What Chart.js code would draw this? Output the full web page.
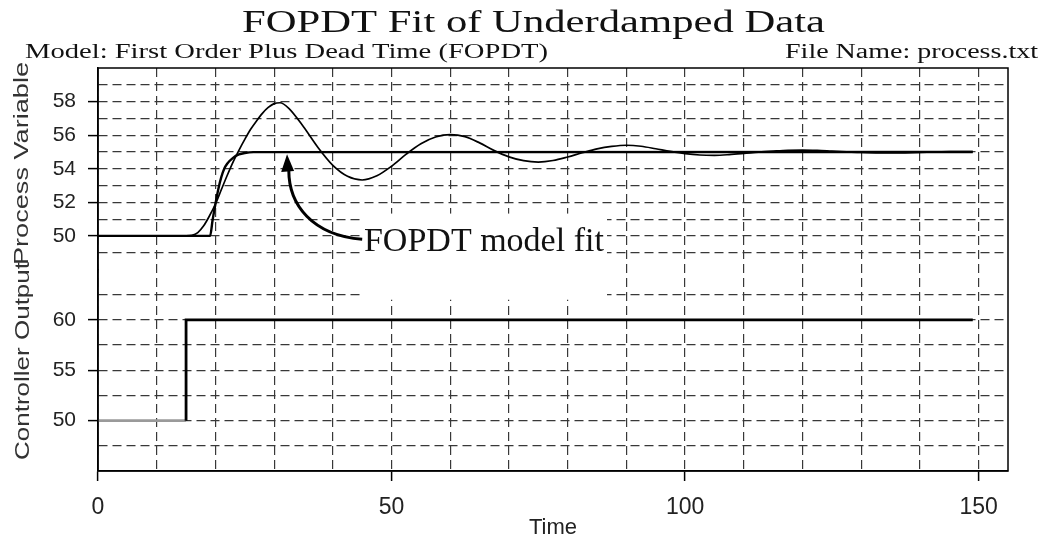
<!DOCTYPE html>
<html>
<head>
<meta charset="utf-8">
<script src="https://cdn.jsdelivr.net/npm/chart.js@4.4.1/dist/chart.umd.min.js"></script>
<style>
  html, body { margin: 0; padding: 0; background: #fff; }
  #wrap { width: 1055px; height: 541px; }
</style>
</head>
<body>
<div id="wrap"><canvas id="chart" width="1055" height="541"></canvas></div>
<script>
// measured process variable (underdamped response)
const pvTime = [0, 15, 16, 17, 18, 19, 20, 21, 22, 23, 24, 25, 26, 27, 28, 29, 30, 31,
    32.5, 35, 37.5, 40, 42.5, 45, 47.5, 50, 52.5, 55, 57.5, 60, 62.5, 65, 67.5, 70,
    72.5, 75, 77.5, 80, 82.5, 85, 87.5, 90, 92.5, 95, 97.5, 100, 102.5, 105, 107.5, 110,
    112.5, 115, 117.5, 120, 122.5, 125, 127.5, 130, 132.5, 135, 137.5, 140, 142.5, 145, 149];
const pvValues = [50, 50, 50.03, 50.2, 50.6, 51.2, 51.9, 52.75, 53.6, 54.4, 55.1, 55.75, 56.35, 56.85, 57.3, 57.65, 57.88, 57.93,
    57.6, 56.5, 55.25, 54.2, 53.55, 53.33, 53.58, 54.15, 54.87, 55.49, 55.89, 56.03, 55.91, 55.54, 55.08, 54.71,
    54.48, 54.4, 54.49, 54.7, 54.95, 55.18, 55.33, 55.4, 55.34, 55.19, 55.03, 54.9, 54.82, 54.8, 54.84, 54.91,
    54.99, 55.05, 55.1, 55.11, 55.09, 55.05, 55.01, 54.97, 54.95, 54.94, 54.95, 54.97, 55.0, 55.02, 55.02];

// FOPDT model fit
const fitTime = [0, 19.1, 19.5, 20, 20.5, 21, 21.5, 22, 23, 24, 25, 26.5, 149];
const fitValues = [50, 50, 50.9, 51.9, 52.8, 53.5, 54.0, 54.3, 54.65, 54.85, 54.94, 54.99, 55];

// controller output step
const coTime = [0, 15, 15, 149];
const coValues = [50, 50, 60, 60];

// labelled ticks
const timeTickLabels = [0, 50, 100, 150];
const pvTickLabels = [50, 52, 54, 56, 58];
const coTickLabels = [50, 55, 60];

const toPoints = (xs, ys) => xs.map((x, i) => ({ x: x, y: ys[i] }));

const GRID = '#383838';
const DASH = [9, 5];

// draws text squeezed/stretched to a given width (the source image is stretched)
const drawFitted = (ctx, text, font, x, y, width, rotate) => {
    ctx.save();
    ctx.font = font;
    const w = ctx.measureText(text).width;
    ctx.translate(x, y);
    if (rotate) ctx.rotate(-Math.PI / 2);
    ctx.scale(width / w, 1);
    ctx.textAlign = 'left';
    ctx.textBaseline = 'alphabetic';
    ctx.fillText(text, 0, 0);
    ctx.restore();
};

const framePlugin = {
    id: 'frame',
    afterDraw(chart) {
        const { ctx, chartArea: a } = chart;
        ctx.save();
        ctx.strokeStyle = '#000';
        ctx.lineWidth = 1.5;
        ctx.strokeRect(a.left, a.top, a.right - a.left, a.bottom - a.top);
        ctx.restore();
    }
};

const textPlugin = {
    id: 'texts',
    afterDraw(chart) {
        const ctx = chart.ctx;
        ctx.fillStyle = '#111';
        drawFitted(ctx, 'FOPDT Fit of Underdamped Data', '31px "Liberation Serif"', 242, 32, 583);
        drawFitted(ctx, 'Model: First Order Plus Dead Time (FOPDT)', '20px "Liberation Serif"', 25, 58, 523);
        drawFitted(ctx, 'File Name: process.txt', '20px "Liberation Serif"', 785, 58, 253);
        ctx.fillStyle = '#333';
        drawFitted(ctx, 'Process Variable', '21px "Liberation Sans"', 28, 265, 203, true);
        drawFitted(ctx, 'Controller Output', '21px "Liberation Sans"', 29, 460, 198, true);
    }
};

const notePlugin = {
    id: 'note',
    beforeDatasetsDraw(chart) {
        const { ctx, scales } = chart;
        const X = v => scales.x.getPixelForValue(v);
        const P = v => scales.yPV.getPixelForValue(v);
        const C = v => scales.yCO.getPixelForValue(v);
        // label box hides the grid behind the text
        ctx.save();
        ctx.fillStyle = '#fff';
        ctx.fillRect(X(45), P(51.33), X(86.7) - X(45), C(62) - P(51.33));
        ctx.restore();
    },
    afterDatasetsDraw(chart) {
        const { ctx, scales } = chart;
        const X = v => scales.x.getPixelForValue(v);
        const P = v => scales.yPV.getPixelForValue(v);
        ctx.save();
        ctx.fillStyle = '#111';
        ctx.font = '34px "Liberation Serif"';
        ctx.textBaseline = 'alphabetic';
        ctx.fillText('FOPDT model fit', X(45.3), P(49.1));
        // curved arrow
        ctx.strokeStyle = '#000';
        ctx.lineWidth = 3;
        ctx.beginPath();
        ctx.moveTo(X(45.0), P(49.8));
        ctx.bezierCurveTo(X(36.5), P(50.04), X(32.5), P(51.86), X(32.5), P(53.9));
        ctx.stroke();
        ctx.fillStyle = '#000';
        ctx.beginPath();
        ctx.moveTo(X(32.2), P(54.86));
        ctx.lineTo(X(31.2), P(53.8));
        ctx.lineTo(X(33.4), P(53.86));
        ctx.closePath();
        ctx.fill();
        ctx.restore();
    }
};

const tickFont = { family: 'Liberation Sans', size: 21 };

new Chart(document.getElementById('chart'), {
    type: 'line',
    data: {
        datasets: [
            {
                label: 'Process Variable',
                data: toPoints(pvTime, pvValues),
                yAxisID: 'yPV',
                borderColor: '#000',
                borderWidth: 1.7,
                pointRadius: 0,
                cubicInterpolationMode: 'monotone'
            },
            {
                label: 'FOPDT model fit',
                data: toPoints(fitTime, fitValues),
                yAxisID: 'yPV',
                borderColor: '#000',
                borderWidth: 2.4,
                pointRadius: 0,
                cubicInterpolationMode: 'monotone'
            },
            {
                label: 'Controller Output',
                data: toPoints(coTime, coValues),
                yAxisID: 'yCO',
                borderColor: '#000',
                borderWidth: 2.8,
                pointRadius: 0,
                tension: 0,
                segment: { borderColor: c => c.p0DataIndex === 0 ? '#9a9a9a' : '#000' }
            }
        ]
    },
    options: {
        responsive: false,
        animation: false,
        devicePixelRatio: 1,
        layout: { padding: { left: 28, right: 47, top: 68, bottom: 0 } },
        plugins: {
            legend: { display: false },
            tooltip: { enabled: false }
        },
        scales: {
            x: {
                type: 'linear',
                min: 0,
                max: 155,
                afterFit: s => { s.height = 70; },
                ticks: {
                    stepSize: 10,
                    includeBounds: false,
                    autoSkip: false,
                    maxRotation: 0,
                    padding: 13,
                    color: '#222',
                    font: { family: 'Liberation Sans', size: 23 },
                    callback: v => timeTickLabels.includes(v) ? v : ''
                },
                grid: {
                    color: GRID,
                    lineWidth: 1.2,
                    tickLength: 10,
                    tickWidth: 1.5,
                    tickColor: c => c.tick && timeTickLabels.includes(c.tick.value) ? '#000' : 'rgba(0,0,0,0)'
                },
                border: { color: '#000', width: 1.5, dash: DASH },
                title: {
                    display: true,
                    text: 'Time',
                    color: '#222',
                    font: { family: 'Liberation Sans', size: 22 },
                    padding: { top: 0, bottom: 0 }
                }
            },
            yCO: {
                type: 'linear',
                position: 'left',
                stack: 'panels',
                stackWeight: 1,
                min: 45,
                max: 65,
                afterFit: s => { s.width = 70; },
                ticks: {
                    stepSize: 2.5,
                    autoSkip: false,
                    padding: 12,
                    color: '#222',
                    font: tickFont,
                    callback: v => coTickLabels.includes(v) ? v : ''
                },
                grid: {
                    color: c => c.tick && (c.tick.value === 45 || c.tick.value === 65) ? 'rgba(0,0,0,0)' : GRID,
                    lineWidth: 1.2,
                    tickLength: 10,
                    tickWidth: 1.5,
                    tickColor: c => c.tick && coTickLabels.includes(c.tick.value) ? '#000' : 'rgba(0,0,0,0)'
                },
                border: { color: '#000', width: 1.5, dash: DASH }
            },
            yPV: {
                type: 'linear',
                position: 'left',
                stack: 'panels',
                stackWeight: 1,
                min: 48,
                max: 60,
                afterFit: s => { s.width = 70; },
                ticks: {
                    stepSize: 1,
                    autoSkip: false,
                    padding: 12,
                    color: '#222',
                    font: tickFont,
                    callback: v => pvTickLabels.includes(v) ? v : ''
                },
                grid: {
                    color: c => c.tick && (c.tick.value === 48 || c.tick.value === 60) ? 'rgba(0,0,0,0)' : GRID,
                    lineWidth: 1.2,
                    tickLength: 10,
                    tickWidth: 1.5,
                    tickColor: c => c.tick && pvTickLabels.includes(c.tick.value) ? '#000' : 'rgba(0,0,0,0)'
                },
                border: { color: '#000', width: 1.5, dash: DASH }
            }
        }
    },
    plugins: [notePlugin, framePlugin, textPlugin]
});
</script>
</body>
</html>
